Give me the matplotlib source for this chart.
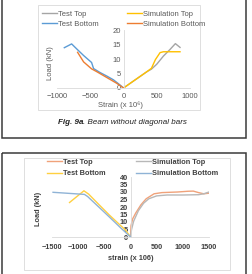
import matplotlib
matplotlib.use('Agg')
import matplotlib.pyplot as plt
from matplotlib.patches import Rectangle

# ---- Fig 9a : beam without diagonal bars ----
a_test_top_x = [0, 200, 350, 420, 500, 600, 700, 780, 850]
a_test_top_y = [0, 3.2, 5.6, 6.5, 8.2, 11.0, 13.3, 15.3, 14.0]
a_test_bot_x = [-890, -780, -700, -600, -480, -450, -350, -250, -150, -50, 0]
a_test_bot_y = [13.9, 15.2, 13.4, 11.2, 8.8, 6.7, 5.3, 4.1, 2.8, 1.0, 0]
a_sim_top_x = [0, 200, 350, 420, 480, 550, 600, 850]
a_sim_top_y = [0, 3.2, 5.6, 6.8, 9.8, 12.2, 12.5, 12.5]
a_sim_bot_x = [-690, -600, -480, -400, -250, -100, 0]
a_sim_bot_y = [12.3, 9.0, 6.6, 5.6, 3.6, 1.6, 0]

# ---- second beam ----
b_test_top_x = [0, 10, 40, 100, 200, 300, 450, 600, 900, 1100, 1200, 1300, 1400, 1500]
b_test_top_y = [0, 7.5, 12.0, 16.0, 21.5, 25.5, 28.8, 29.6, 30.0, 30.5, 30.6, 29.6, 28.8, 29.2]
b_test_bot_x = [-1165, -890, -800, -600, -400, -200, -100, 0]
b_test_bot_y = [23.0, 30.8, 28.6, 21.5, 14.5, 8.0, 4.8, 0]
b_sim_top_x = [0, 20, 60, 150, 250, 350, 500, 700, 1000, 1300, 1400, 1500]
b_sim_top_y = [0, 5.0, 10.5, 17.5, 22.5, 25.5, 27.4, 28.0, 28.0, 28.2, 28.8, 30.0]
b_sim_bot_x = [-1480, -880, -820, -600, -400, -200, 0]
b_sim_bot_y = [29.8, 28.4, 27.0, 19.8, 13.2, 6.5, 0]

W, H = 252, 274
plt.rcParams['font.family'] = ['Liberation Sans', 'DejaVu Sans']
fig = plt.figure(figsize=(W / 100, H / 100), dpi=100)


def px(l, t, r, b):
    return [l / W, 1 - b / H, (r - l) / W, (b - t) / H]


# frames of the document page
bg = fig.add_axes([0, 0, 1, 1])
bg.set_xlim(0, W)
bg.set_ylim(H, 0)
bg.axis('off')
bg.add_patch(Rectangle((1.5, -5), 244.5, 143, fill=False, ec='#3a3a3a', lw=1.1))
bg.add_patch(Rectangle((1.5, 153), 244.5, 130, fill=False, ec='#3a3a3a', lw=1.1))
bg.add_patch(Rectangle((38, 5), 162, 105, fill=False, ec='#d9d9d9', lw=0.6))
bg.add_patch(Rectangle((24, 158), 206, 112, fill=False, ec='#d9d9d9', lw=0.6))
bg.text(83, 123, 'Fig. 9a', fontsize=5.8, style='italic', weight='bold',
        ha='right', va='center', color='#222222')
bg.text(83, 123, '. Beam without diagonal bars', fontsize=5.8, style='italic',
        ha='left', va='center', color='#222222')
bg.text(120, 105, 'Strain (x 10\u2076)', fontsize=5.5, color='#595959',
        ha='center', va='center')


def style_axes(ax, fs, color, weight, xpad):
    for s in ['top', 'right']:
        ax.spines[s].set_visible(False)
    ax.spines['left'].set_position(('data', 0))
    ax.spines['left'].set_color('#d9d9d9')
    ax.spines['bottom'].set_color('#d9d9d9')
    ax.spines['left'].set_linewidth(0.6)
    ax.spines['bottom'].set_linewidth(0.6)
    ax.tick_params(length=0, labelsize=fs, labelcolor=color)
    ax.tick_params(axis='x', pad=xpad)
    ax.tick_params(axis='y', pad=2)
    for lab in ax.get_xticklabels() + ax.get_yticklabels():
        lab.set_fontweight(weight)
    ax.patch.set_alpha(0)


# top chart
ax1 = fig.add_axes(px(57, 30, 190, 88))
l1, = ax1.plot(a_test_top_x, a_test_top_y, color='#a5a5a5', lw=1.0)
l2, = ax1.plot(a_test_bot_x, a_test_bot_y, color='#5b9bd5', lw=1.0)
l3, = ax1.plot(a_sim_top_x, a_sim_top_y, color='#ffc000', lw=1.0)
l4, = ax1.plot(a_sim_bot_x, a_sim_bot_y, color='#ed7d31', lw=1.0)
ax1.set_xlim(-1000, 1000)
ax1.set_ylim(0, 20)
ax1.set_xticks([-1000, -500, 0, 500, 1000])
ax1.set_yticks([0, 5, 10, 15, 20])
style_axes(ax1, 5.5, '#595959', 'normal', 3.5)
fig.text(50 / W, 1 - 63 / H, 'Load (kN)', rotation=90, fontsize=5.5,
         color='#595959', ha='center', va='center')
fig.legend([l1, l2, l3, l4], ['Test Top', 'Test Bottom', 'Simulation Top', 'Simulation Bottom'],
           ncol=2, loc='upper left', bbox_to_anchor=(42 / W, 1 - 10.5 / H),
           fontsize=5.5, frameon=False, handlelength=2.0, handletextpad=0.15,
           columnspacing=3.6, labelspacing=0.35, labelcolor='#595959',
           borderpad=0, borderaxespad=0)

# bottom chart
ax2 = fig.add_axes(px(52, 177, 209, 237))
m1, = ax2.plot(b_test_top_x, b_test_top_y, color='#f0a27a', lw=1.0)
m2, = ax2.plot(b_test_bot_x, b_test_bot_y, color='#ffd040', lw=1.0)
m3, = ax2.plot(b_sim_top_x, b_sim_top_y, color='#b8b8b8', lw=1.0)
m4, = ax2.plot(b_sim_bot_x, b_sim_bot_y, color='#8fb3d6', lw=1.0)
ax2.set_xlim(-1500, 1500)
ax2.set_ylim(0, 40)
ax2.set_xticks([-1500, -1000, -500, 0, 500, 1000, 1500])
ax2.set_yticks(range(0, 41, 5))
style_axes(ax2, 5.3, '#404040', 'bold', 5)
ax2.set_xlabel('strain (x 106)', fontsize=5.3, color='#404040', weight='bold', labelpad=3)
fig.text(38 / W, 1 - 209 / H, 'Load (kN)', rotation=90, fontsize=5.3,
         color='#404040', weight='bold', ha='center', va='center')
leg = fig.legend([m1, m2, m3, m4], ['Test Top', 'Test Bottom', 'Simulation Top', 'Simulation Bottom'],
                 ncol=2, loc='upper left', bbox_to_anchor=(47 / W, 1 - 158.5 / H),
                 fontsize=5.3, frameon=False, handlelength=2.0, handletextpad=0.15,
                 columnspacing=4.2, labelspacing=0.6, labelcolor='#404040',
                 borderpad=0, borderaxespad=0)
for t in leg.get_texts():
    t.set_fontweight('bold')

fig.savefig('out.png', dpi=100)
